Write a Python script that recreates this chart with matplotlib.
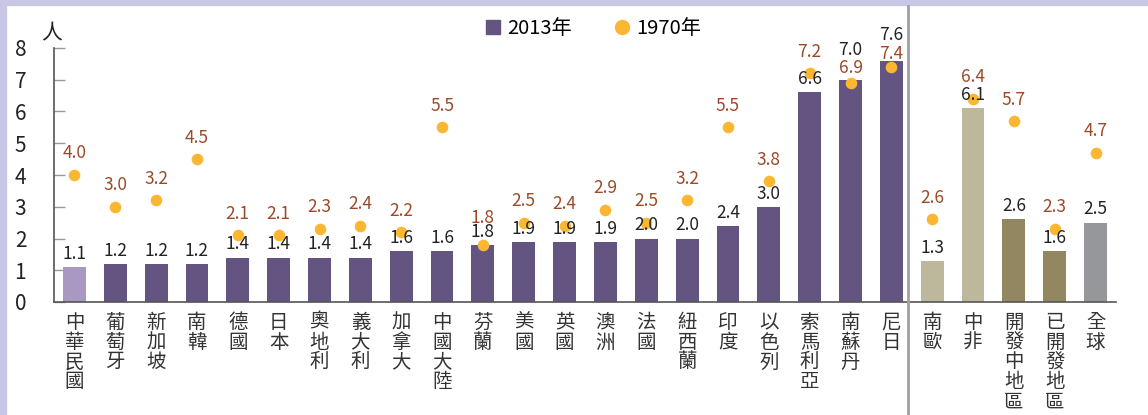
import matplotlib
matplotlib.use("Agg")
import matplotlib.pyplot as plt
from matplotlib.lines import Line2D
from matplotlib.patches import Rectangle

plt.rcParams['font.family'] = ['Noto Sans CJK TC', 'DejaVu Sans']

# data
categories = ['中華民國', '葡萄牙', '新加坡', '南韓', '德國', '日本', '奧地利', '義大利',
              '加拿大', '中國大陸', '芬蘭', '美國', '英國', '澳洲', '法國', '紐西蘭',
              '印度', '以色列', '索馬利亞', '南蘇丹', '尼日',
              '南歐', '中非', '開發中地區', '已開發地區', '全球']
v2013 = [1.1, 1.2, 1.2, 1.2, 1.4, 1.4, 1.4, 1.4, 1.6, 1.6, 1.8, 1.9, 1.9, 1.9, 2.0, 2.0,
         2.4, 3.0, 6.6, 7.0, 7.6, 1.3, 6.1, 2.6, 1.6, 2.5]
v1970 = [4.0, 3.0, 3.2, 4.5, 2.1, 2.1, 2.3, 2.4, 2.2, 5.5, 1.8, 2.5, 2.4, 2.9, 2.5, 3.2,
         5.5, 3.8, 7.2, 6.9, 7.4, 2.6, 6.4, 5.7, 2.3, 4.7]
yticks = [0, 1, 2, 3, 4, 5, 6, 7, 8]

# colours per bar
purple = '#635482'
bar_colors = ['#a898c2'] + [purple] * 20 + ['#bdb89b', '#bdb89b', '#928760', '#928760', '#96979b']
dot_color = '#fbb632'
lbl1970 = '#9b4a28'

# label nudges (points) for crowded spots
nudge2013 = {19: 12, 20: 9}
nudge1970 = {19: -5, 20: -6, 10: 4}

W, H = 1148, 415
fig = plt.figure(figsize=(W / 100, H / 100), dpi=100)

# light border strips top / left
fig.patches.append(Rectangle((0, 1 - 5 / H), 1, 5 / H, transform=fig.transFigure,
                             color='#c8c8e6', zorder=0))
fig.patches.append(Rectangle((0, 0), 6 / W, 1, transform=fig.transFigure,
                             color='#c8c8e6', zorder=0))

ax = fig.add_axes([54 / W, (H - 302) / H, (1116 - 54) / W, (302 - 48) / H])
x = list(range(len(categories)))
ax.bar(x, v2013, width=0.56, color=bar_colors, zorder=2)
ax.scatter(x, v1970, s=70, color=dot_color, zorder=3, linewidths=0)

for i in x:
    ax.annotate(f'{v2013[i]:.1f}', (i, v2013[i]), xytext=(0, 3 + nudge2013.get(i, 0)),
                textcoords='offset points', ha='center', va='bottom',
                fontsize=12.5, color='#222222', zorder=4)
    ax.annotate(f'{v1970[i]:.1f}', (i, v1970[i]), xytext=(0, 9 + nudge1970.get(i, 0)),
                textcoords='offset points', ha='center', va='bottom',
                fontsize=12.5, color=lbl1970, zorder=4)

ax.set_xlim(-0.5, len(categories) - 0.5)
ax.set_ylim(0, 8)
ax.set_yticks(yticks)
ax.set_yticklabels([str(t) for t in yticks], fontsize=15, color='#222222')
ax.set_xticks(x)
ax.set_xticklabels(['\n'.join(c) for c in categories], fontsize=14, color='#333333',
                   linespacing=0.93, va='top')
ax.tick_params(axis='x', length=0, pad=7)
ax.tick_params(axis='y', direction='in', length=8, width=1, color='#999999', pad=20)
for s in ['top', 'right']:
    ax.spines[s].set_visible(False)
ax.spines['left'].set_color('#555555')
ax.spines['bottom'].set_color('#555555')
ax.spines['left'].set_linewidth(1.2)
ax.spines['bottom'].set_linewidth(1.2)

fig.text(52 / W, 1 - 33 / H, '人', ha='center', va='center', fontsize=15, color='#222222')

# separator between countries and regions
fig.add_artist(Line2D([908 / W, 908 / W], [0, 1 - 6 / H], transform=fig.transFigure,
                      color='#a0a0a0', linewidth=2))

handles = [Line2D([], [], marker='s', linestyle='', color=purple, markersize=10),
           Line2D([], [], marker='o', linestyle='', color=dot_color, markersize=10)]
fig.legend(handles, ['2013年', '1970年'], loc='center', bbox_to_anchor=(592 / W, 1 - 29 / H),
           ncol=2, frameon=False, fontsize=14.5, handletextpad=0.2, columnspacing=2.0,
           handlelength=1.0)

fig.savefig('out.png', dpi=100)
